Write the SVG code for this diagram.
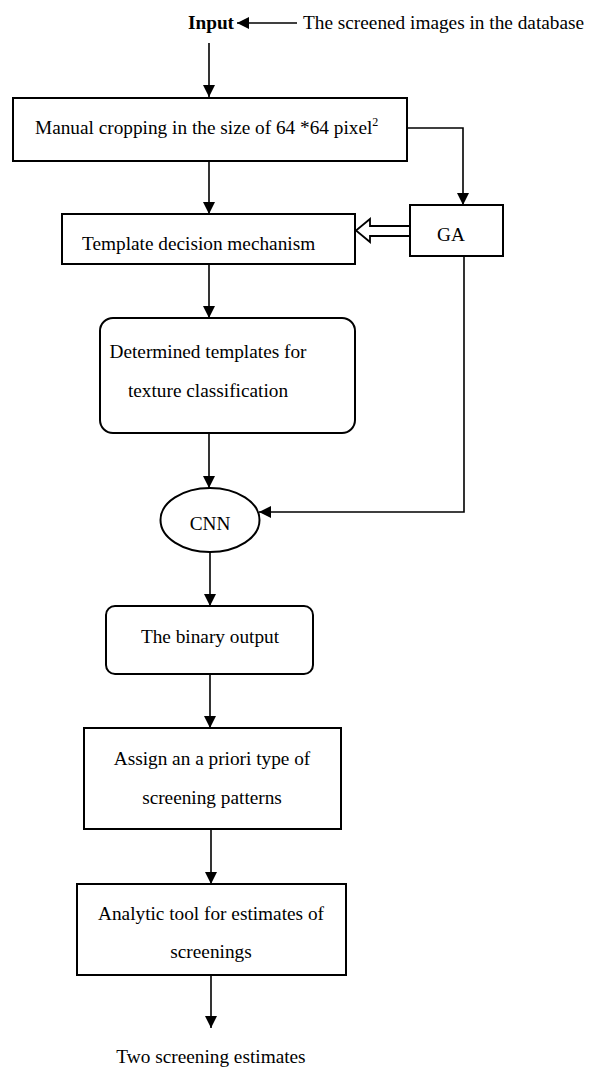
<svg xmlns="http://www.w3.org/2000/svg" width="591" height="1070" viewBox="0 0 591 1070">
<defs>
<style>
text{font-family:"Liberation Serif","Times New Roman",serif;font-size:19.3px;fill:#000}
.c{text-anchor:middle}
.b{font-weight:bold}
.box{fill:#fff;stroke:#000;stroke-width:2}
.ln{fill:none;stroke:#000;stroke-width:1.6}
</style>
<marker id="ah" markerUnits="userSpaceOnUse" markerWidth="12" markerHeight="14" refX="12" refY="6" orient="auto">
<path d="M0,0 L12,6 L0,12 Z" fill="#000"/>
</marker>
</defs>
<g id="connectors">
<line class="ln" x1="297" y1="23" x2="237" y2="23" marker-end="url(#ah)"/>
<line class="ln" x1="209" y1="43" x2="209" y2="97" marker-end="url(#ah)"/>
<line class="ln" x1="209" y1="161" x2="209" y2="214" marker-end="url(#ah)"/>
<polyline class="ln" points="407,128 463,128 463,205" marker-end="url(#ah)"/>
<polygon points="410,226 370,226 370,219 356,230.5 370,242 370,236 410,236" fill="#fff" stroke="#000" stroke-width="1.8" stroke-linejoin="miter"/>
<line class="ln" x1="209" y1="264" x2="209" y2="318" marker-end="url(#ah)"/>
<line class="ln" x1="209" y1="433" x2="209" y2="488" marker-end="url(#ah)"/>
<polyline class="ln" points="464,256 464,512 259,512" marker-end="url(#ah)"/>
<line class="ln" x1="210" y1="552" x2="210" y2="606" marker-end="url(#ah)"/>
<line class="ln" x1="210" y1="674" x2="210" y2="728" marker-end="url(#ah)"/>
<line class="ln" x1="211" y1="829" x2="211" y2="884" marker-end="url(#ah)"/>
<line class="ln" x1="211" y1="975" x2="211" y2="1028" marker-end="url(#ah)"/>
</g>
<g id="input">
<text class="c b" x="211" y="29">Input</text>
</g>
<g id="source">
<text x="303" y="29">The screened images in the database</text>
</g>
<g id="manual">
<rect class="box" x="13" y="98" width="394" height="63"/>
<text x="35" y="134">Manual cropping in the size of 64 *64 pixel<tspan dy="-8" font-size="12">2</tspan></text>
</g>
<g id="ga">
<rect class="box" x="410" y="205" width="93" height="51"/>
<text class="c" x="451" y="241">GA</text>
</g>
<g id="template">
<rect class="box" x="62" y="214" width="293" height="50"/>
<text x="82" y="250">Template decision mechanism</text>
</g>
<g id="determined">
<rect class="box" x="100" y="318" width="255" height="115" rx="13"/>
<text class="c" x="208" y="358">Determined templates for</text>
<text class="c" x="208" y="397">texture classification</text>
</g>
<g id="cnn">
<ellipse class="box" cx="210" cy="520" rx="49.5" ry="32"/>
<text class="c" x="210" y="530">CNN</text>
</g>
<g id="binary">
<rect class="box" x="106" y="606" width="207" height="68" rx="9"/>
<text class="c" x="210" y="643">The binary output</text>
</g>
<g id="assign">
<rect class="box" x="84" y="728" width="257" height="101"/>
<text class="c" x="212" y="765">Assign an a priori type of</text>
<text class="c" x="212" y="804">screening patterns</text>
</g>
<g id="analytic">
<rect class="box" x="77" y="884" width="269" height="91"/>
<text class="c" x="211" y="920">Analytic tool for estimates of</text>
<text class="c" x="211" y="958">screenings</text>
</g>
<g id="result">
<text class="c" x="211" y="1063">Two screening estimates</text>
</g>
</svg>
